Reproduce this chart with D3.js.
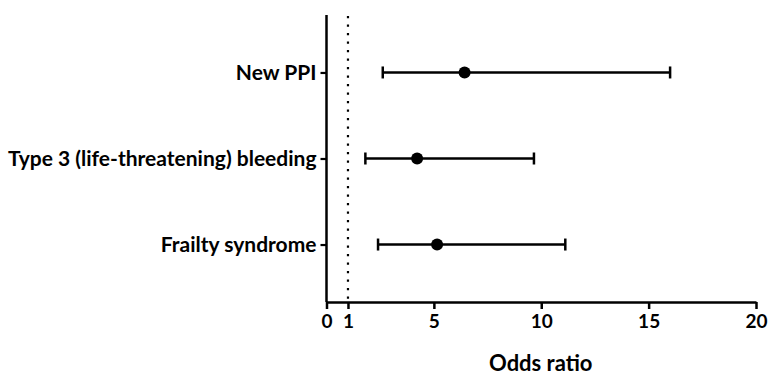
<!DOCTYPE html>
<html>
<head>
<meta charset="utf-8">
<script src="https://cdn.jsdelivr.net/npm/d3@7"></script>
<style>
  body { margin: 0; background: #fff; }
  svg { display: block; font-family: Lato, "Open Sans", sans-serif; font-weight: bold; }
</style>
</head>
<body>
<div id="chart"></div>
<script>
// odds ratios with 95% CI
const categories = ["New PPI", "Type 3 (life-threatening) bleeding", "Frailty syndrome"];
const oddsRatio = [6.43, 4.22, 5.15];
const ciLower = [2.62, 1.81, 2.40];
const ciUpper = [16.0, 9.66, 11.12];
const xTicks = [0, 1, 5, 10, 15, 20];
const refLine = 1;

const width = 769, height = 375;
const svg = d3.select("#chart").append("svg").attr("width", width).attr("height", height);

// plot area
const plotLeft = 326.5, plotRight = 756, plotTop = 15, plotBottom = 302;

const x = d3.scaleLinear().domain([0, 20]).range([plotLeft, plotRight]);
const y = d3.scalePoint().domain(categories).range([plotTop, plotBottom]).padding(0.668);

const rows = categories.map((c, i) => ({ cat: c, or: oddsRatio[i], lo: ciLower[i], hi: ciUpper[i] }));

// dotted reference line at OR = 1
svg.append("line")
  .attr("x1", x(refLine)).attr("x2", x(refLine))
  .attr("y1", plotTop + 1).attr("y2", plotBottom)
  .attr("stroke", "#000").attr("stroke-width", 2.2)
  .attr("stroke-dasharray", "2.2,6.3");

// x axis
const xAxis = svg.append("g")
  .attr("transform", `translate(0,${plotBottom})`)
  .call(d3.axisBottom(x).tickValues(xTicks).tickFormat(d3.format("d")).tickSize(7).tickSizeOuter(0).tickPadding(6));
xAxis.select(".domain").attr("stroke-width", 2.5);
xAxis.selectAll(".tick line").attr("stroke-width", 2.5);
xAxis.selectAll(".tick text").style("font-size", "19px").style("font-weight", "bold").style("font-family", "Lato, sans-serif").attr("fill", "#000");

// y axis
const yAxis = svg.append("g")
  .attr("transform", `translate(${plotLeft},0)`)
  .call(d3.axisLeft(y).tickSize(6).tickSizeOuter(0).tickPadding(4));
yAxis.select(".domain").attr("d", `M0,${plotTop}V${plotBottom}`).attr("stroke-width", 2.5);
yAxis.selectAll(".tick line").attr("stroke-width", 2.2);
yAxis.selectAll(".tick text").style("font-size", "21px").style("font-weight", "bold").style("font-family", "Lato, sans-serif").attr("fill", "#000");

// axis title
svg.append("text")
  .attr("x", (plotLeft + plotRight) / 2 - 0.5).attr("y", 370.5)
  .attr("text-anchor", "middle")
  .style("font-size", "22px")
  .text("Odds ratio");

// error bars
const g = svg.append("g");
const capH = 6;
rows.forEach(d => {
  const cy = y(d.cat);
  g.append("line").attr("x1", x(d.lo)).attr("x2", x(d.hi)).attr("y1", cy).attr("y2", cy)
    .attr("stroke", "#000").attr("stroke-width", 2.5);
  [d.lo, d.hi].forEach(v => {
    g.append("line").attr("x1", x(v)).attr("x2", x(v)).attr("y1", cy - capH).attr("y2", cy + capH)
      .attr("stroke", "#000").attr("stroke-width", 2.5);
  });
  g.append("circle").attr("cx", x(d.or)).attr("cy", cy).attr("r", 6).attr("fill", "#000");
});
</script>
</body>
</html>
